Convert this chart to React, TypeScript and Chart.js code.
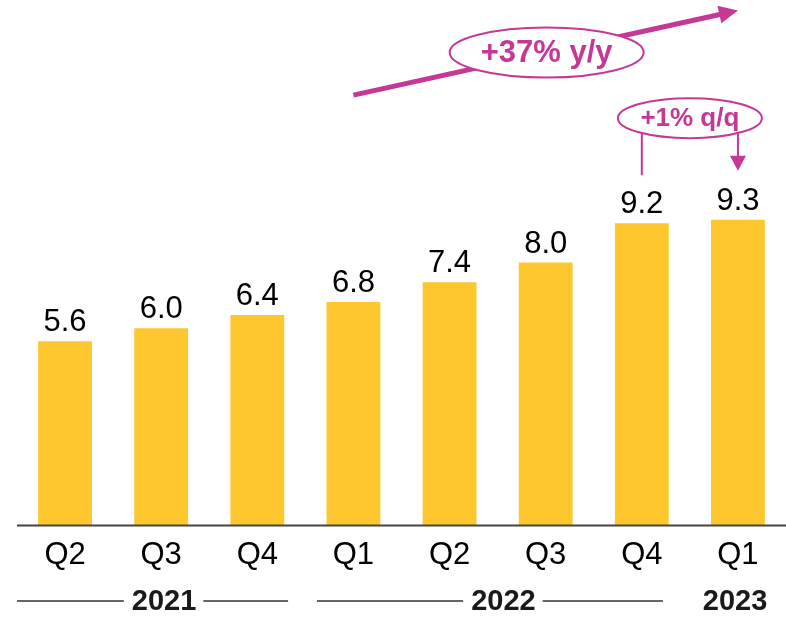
import React, { useEffect, useRef } from "react";
import { Chart, registerables } from "chart.js";

Chart.register(...registerables);

const categories = ["Q2", "Q3", "Q4", "Q1", "Q2", "Q3", "Q4", "Q1"];
const values = [5.6, 6.0, 6.4, 6.8, 7.4, 8.0, 9.2, 9.3];
const valueLabels = ["5.6", "6.0", "6.4", "6.8", "7.4", "8.0", "9.2", "9.3"];
const years = ["2021", "2022", "2023"];
const yearLabelPos = [1.03, 4.56, 6.97];
const yearLineSpans: (number[] | null)[] = [[-0.5, 2.32], [2.62, 6.22], null];
const yoyLabel = "+37% y/y";
const qoqLabel = "+1% q/q";

const BAR = "#FFC72E";
const MAGENTA = "rgb(197, 56, 150)";
const FONT = "'Liberation Sans', Arial, sans-serif";

function arrowHead(ctx: CanvasRenderingContext2D, x1: number, y1: number, x2: number, y2: number, len: number, half: number) {
  const a = Math.atan2(y2 - y1, x2 - x1);
  const bx = x2 - Math.cos(a) * len;
  const by = y2 - Math.sin(a) * len;
  ctx.beginPath();
  ctx.moveTo(x2, y2);
  ctx.lineTo(bx + Math.sin(a) * half, by - Math.cos(a) * half);
  ctx.lineTo(bx - Math.sin(a) * half, by + Math.cos(a) * half);
  ctx.closePath();
  ctx.fill();
}

const overlay = {
  id: "overlay",
  afterDraw(chart: any) {
    const ctx: CanvasRenderingContext2D = chart.ctx;
    const xs = chart.scales.x;
    const ys = chart.scales.y;
    const area = chart.chartArea;
    ctx.save();

    // axis line
    ctx.strokeStyle = "#444";
    ctx.lineWidth = 2;
    ctx.beginPath();
    ctx.moveTo(area.left, area.bottom + 0.5);
    ctx.lineTo(chart.width, area.bottom + 0.5);
    ctx.stroke();

    // value labels
    ctx.fillStyle = "#000";
    ctx.textAlign = "center";
    ctx.textBaseline = "alphabetic";
    ctx.font = `31px ${FONT}`;
    values.forEach((v, i) => {
      ctx.fillText(valueLabels[i], xs.getPixelForValue(i), ys.getPixelForValue(v) - 10);
    });

    // category labels
    ctx.textBaseline = "middle";
    categories.forEach((c, i) => {
      ctx.fillText(c, xs.getPixelForValue(i), area.bottom + 30);
    });

    // year labels and lines
    ctx.font = `bold 29px ${FONT}`;
    const yy = area.bottom + 77;
    ctx.strokeStyle = "#333";
    ctx.lineWidth = 1.5;
    years.forEach((yl, i) => {
      const cx = xs.getPixelForValue(yearLabelPos[i]);
      ctx.fillStyle = "#1a1a1a";
      ctx.fillText(yl, cx, yy);
      const span = yearLineSpans[i];
      if (span) {
        const w = ctx.measureText(yl).width;
        const l = xs.getPixelForValue(span[0]);
        const r = xs.getPixelForValue(span[1]);
        ctx.beginPath();
        ctx.moveTo(l, yy - 1);
        ctx.lineTo(cx - w / 2 - 8, yy - 1);
        ctx.moveTo(cx + w / 2 + 7, yy - 1);
        ctx.lineTo(r, yy - 1);
        ctx.stroke();
      }
    });

    // y/y arrow
    const ax1 = xs.getPixelForValue(3);
    const ay1 = ys.getPixelForValue(13.1);
    const ax2 = xs.getPixelForValue(7);
    const ay2 = ys.getPixelForValue(15.68);
    ctx.strokeStyle = MAGENTA;
    ctx.fillStyle = MAGENTA;
    ctx.lineWidth = 5;
    const ang = Math.atan2(ay2 - ay1, ax2 - ax1);
    ctx.beginPath();
    ctx.moveTo(ax1, ay1);
    ctx.lineTo(ax2 - Math.cos(ang) * 14, ay2 - Math.sin(ang) * 14);
    ctx.stroke();
    arrowHead(ctx, ax1, ay1, ax2, ay2, 19, 9);

    // y/y ellipse
    const e1x = xs.getPixelForValue(5.01);
    const e1y = ys.getPixelForValue(14.4);
    ctx.beginPath();
    ctx.ellipse(e1x, e1y, 97, 25, 0, 0, Math.PI * 2);
    ctx.fillStyle = "#fff";
    ctx.fill();
    ctx.lineWidth = 2;
    ctx.stroke();
    ctx.fillStyle = MAGENTA;
    ctx.font = `bold 31px ${FONT}`;
    ctx.textBaseline = "middle";
    ctx.fillText(yoyLabel, e1x, e1y + 1);

    // q/q bracket
    const qx1 = xs.getPixelForValue(6);
    const qx2 = xs.getPixelForValue(7);
    const top = ys.getPixelForValue(11.95);
    ctx.lineWidth = 2;
    ctx.beginPath();
    ctx.moveTo(qx1, top);
    ctx.lineTo(qx1, ys.getPixelForValue(values[6]) - 48);
    ctx.moveTo(qx2, top);
    ctx.lineTo(qx2, ys.getPixelForValue(values[7]) - 60);
    ctx.stroke();
    const tipY = ys.getPixelForValue(values[7]) - 49;
    arrowHead(ctx, qx2, top, qx2, tipY, 15, 8);

    const e2x = (qx1 + qx2) / 2;
    const e2y = ys.getPixelForValue(12.4);
    ctx.beginPath();
    ctx.ellipse(e2x, e2y, 72, 20, 0, 0, Math.PI * 2);
    ctx.fillStyle = "#fff";
    ctx.fill();
    ctx.stroke();
    ctx.fillStyle = MAGENTA;
    ctx.font = `bold 26px ${FONT}`;
    ctx.fillText(qoqLabel, e2x, e2y + 1);

    ctx.restore();
  },
};

export default function App() {
  const ref = useRef<HTMLCanvasElement | null>(null);
  useEffect(() => {
    if (!ref.current) return;
    const chart = new Chart(ref.current, {
      type: "bar",
      data: {
        labels: categories,
        datasets: [
          {
            data: values,
            backgroundColor: BAR,
            borderWidth: 0,
            barPercentage: 0.56,
            categoryPercentage: 1,
          },
        ],
      },
      options: {
        animation: false,
        responsive: false,
        devicePixelRatio: 1,
        layout: { padding: { left: 17, right: 0, top: 0, bottom: 92 } },
        plugins: { legend: { display: false }, tooltip: { enabled: false } },
        scales: {
          x: { display: false },
          y: { display: false, min: 0, max: 16 },
        },
      },
      plugins: [overlay],
    });
    return () => chart.destroy();
  }, []);
  return (
    <div style={{ position: "absolute", left: 0, top: 0, width: 786, height: 617, background: "#fff" }}>
      <canvas ref={ref} width={786} height={617} />
    </div>
  );
}
